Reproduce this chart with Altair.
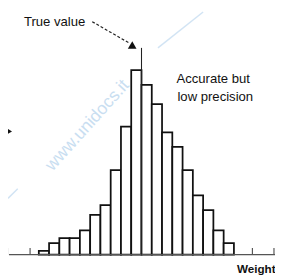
import altair as alt
import pandas as pd

# Histogram data (bin index -> count)
bin_start = list(range(19))
counts = [4, 12, 17, 17, 25, 41, 51, 87, 132, 190, 175, 155, 126, 111, 87, 61, 46, 25, 12]

# axis ticks (in bin units)
tick_pos = [-3.05, -0.85, 20.8, 22.9]

# annotations
true_value = 10.0
true_top = 213
label_text = ["True value", "Accurate but", "low precision"]
label_x = [-1.45, 13.4, 13.5]
label_y = [240, 181, 162]
dash_x = [5.2, 8.8]
dash_y = [240, 218]
arrow_x = [9.2]
arrow_y = [214]

X_DOM = [-3.0, 23.0]
Y_DOM = [-22, 250]

xs = alt.Scale(domain=X_DOM, nice=False, zero=False)
ys = alt.Scale(domain=Y_DOM, nice=False, zero=False)

bars_df = pd.DataFrame({
    "x0": bin_start,
    "x1": [b + 1 for b in bin_start],
    "count": counts,
})

bars = alt.Chart(bars_df).mark_bar(
    fill="white", stroke="#111", strokeWidth=1.8, clip=False
).encode(
    x=alt.X("x0:Q", scale=xs, axis=None),
    x2="x1:Q",
    y=alt.Y("count:Q", scale=ys, axis=None),
    y2=alt.datum(0),
)

axis_df = pd.DataFrame({"a": [X_DOM[0] + 0.1], "b": [X_DOM[1]], "y": [0]})
axis_line = alt.Chart(axis_df).mark_rule(color="#555", strokeWidth=1.4).encode(
    x=alt.X("a:Q", scale=xs, axis=None),
    x2="b:Q",
    y=alt.Y("y:Q", scale=ys, axis=None),
)

ticks_df = pd.DataFrame({"x": tick_pos, "y0": [0] * len(tick_pos), "y1": [7] * len(tick_pos)})
ticks = alt.Chart(ticks_df).mark_rule(color="#555", strokeWidth=1.2).encode(
    x=alt.X("x:Q", scale=xs, axis=None),
    y=alt.Y("y0:Q", scale=ys, axis=None),
    y2="y1:Q",
)

tv_df = pd.DataFrame({"x": [true_value], "y0": [0], "y1": [true_top]})
tv_line = alt.Chart(tv_df).mark_rule(color="#222", strokeWidth=1.1).encode(
    x=alt.X("x:Q", scale=xs, axis=None),
    y=alt.Y("y0:Q", scale=ys, axis=None),
    y2="y1:Q",
)

dash_df = pd.DataFrame({"x": [dash_x[0]], "x2": [dash_x[1]], "y": [dash_y[0]], "y2": [dash_y[1]]})
dash = alt.Chart(dash_df).mark_rule(color="#222", strokeWidth=1.2, strokeDash=[3, 2]).encode(
    x=alt.X("x:Q", scale=xs, axis=None),
    x2="x2:Q",
    y=alt.Y("y:Q", scale=ys, axis=None),
    y2="y2:Q",
)

arrow_df = pd.DataFrame({"x": arrow_x, "y": arrow_y})
arrow = alt.Chart(arrow_df).mark_point(
    shape="triangle-right", filled=True, color="#111", size=80, angle=31, opacity=1
).encode(
    x=alt.X("x:Q", scale=xs, axis=None),
    y=alt.Y("y:Q", scale=ys, axis=None),
)

left_df = pd.DataFrame({"x": [-2.85], "y": [127]})
left_mark = alt.Chart(left_df).mark_point(
    shape="triangle-right", filled=True, color="#111", size=35, opacity=1
).encode(
    x=alt.X("x:Q", scale=xs, axis=None),
    y=alt.Y("y:Q", scale=ys, axis=None),
)

labels_df = pd.DataFrame({"t": label_text, "x": label_x, "y": label_y})
labels = alt.Chart(labels_df).mark_text(
    align="left", baseline="middle", font="Liberation Sans", fontSize=13.5, color="#111"
).encode(
    x=alt.X("x:Q", scale=xs, axis=None),
    y=alt.Y("y:Q", scale=ys, axis=None),
    text="t:N",
)

weight_df = pd.DataFrame({"t": ["Weight"], "x": [19.3], "y": [-15]})
weight = alt.Chart(weight_df).mark_text(
    align="left", baseline="middle", font="Liberation Sans", fontSize=12,
    color="#111", fontWeight="bold"
).encode(
    x=alt.X("x:Q", scale=xs, axis=None),
    y=alt.Y("y:Q", scale=ys, axis=None),
    text="t:N",
)

wm_df = pd.DataFrame({"t": ["www.unidocs.it"], "x": [4.75], "y": [133]})
watermark = alt.Chart(wm_df).mark_text(
    align="center", baseline="middle", font="Liberation Sans", fontSize=18,
    color="#c9def1", angle=312
).encode(
    x=alt.X("x:Q", scale=xs, axis=None),
    y=alt.Y("y:Q", scale=ys, axis=None),
    text="t:N",
)

wl_df = pd.DataFrame({"x": [-3.0, 11.6], "x2": [-2.05, 16.0], "y": [58, 213], "y2": [68, 250]})
wm_lines = alt.Chart(wl_df).mark_rule(color="#d2e4f4", strokeWidth=1.5).encode(
    x=alt.X("x:Q", scale=xs, axis=None),
    x2="x2:Q",
    y=alt.Y("y:Q", scale=ys, axis=None),
    y2="y2:Q",
)

chart = alt.layer(
    watermark, wm_lines, bars, axis_line, ticks, tv_line, dash, arrow, left_mark, labels, weight
).properties(
    width=275, height=272, padding=0, autosize=alt.AutoSizeParams(type="none")
).configure(background="white").configure_view(strokeWidth=0, stroke=None)

chart.save("out.html", embed_options={"renderer": "svg", "actions": False})
